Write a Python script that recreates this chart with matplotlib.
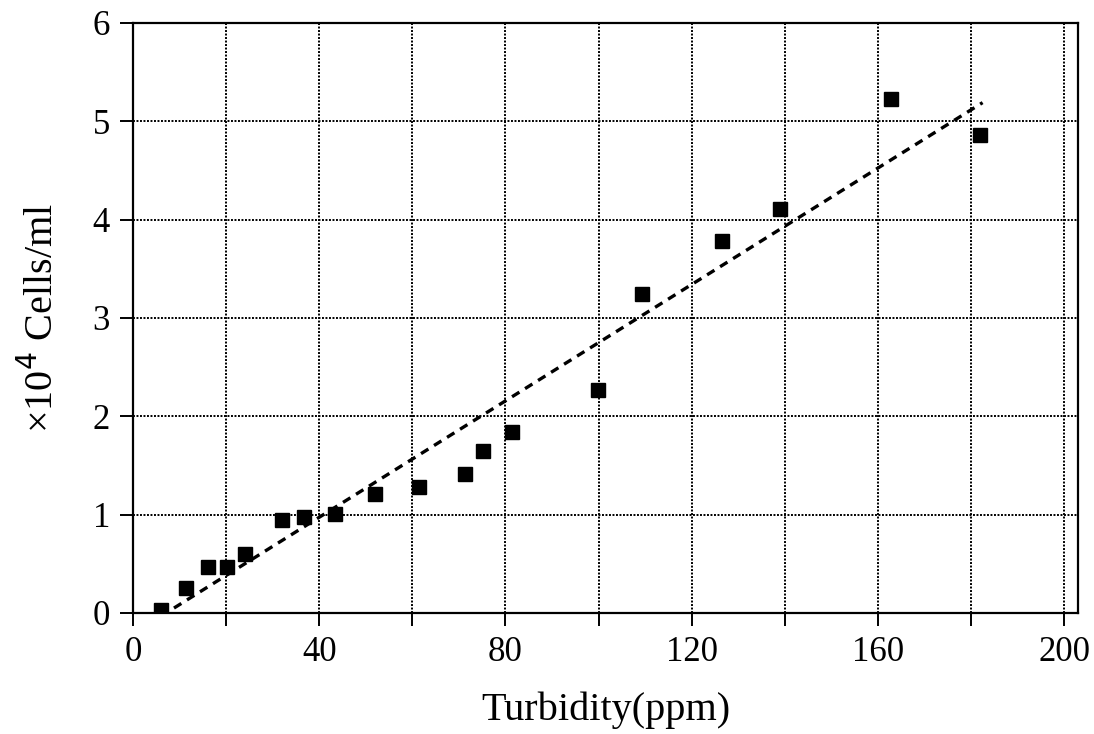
#!/usr/bin/env python3
"""
Cell count vs turbidity scatter with linear fit.
"""
import matplotlib
matplotlib.use("Agg")
import matplotlib.pyplot as plt

turbidity = [6.0, 11.4, 16.1, 20.2, 24.0, 32.1, 36.8, 43.4, 51.9, 61.4,
             71.3, 75.2, 81.4, 99.9, 109.4, 126.5, 139.0, 162.9, 181.9]
cells = [0.03, 0.25, 0.47, 0.47, 0.60, 0.95, 0.98, 1.01, 1.21, 1.28,
         1.41, 1.65, 1.84, 2.27, 3.24, 3.78, 4.11, 5.23, 4.86]

# fitted line end points
fit_x = [8.8, 182.5]
fit_y = [0.05, 5.19]

x_ticks = list(range(0, 201, 20))
x_tick_labels = [str(v) if v % 40 == 0 else "" for v in x_ticks]
y_ticks = list(range(0, 7))

FONT = ["Liberation Serif", "DejaVu Serif"]

fig = plt.figure(figsize=(10.94, 7.34), dpi=100)
ax = fig.add_axes([0.1216, 0.1649, 0.8638, 0.8038])

# grid
ax.set_xticks(x_ticks)
ax.set_xticklabels(x_tick_labels)
ax.set_yticks(y_ticks)
ax.grid(True, linestyle=(0, (1, 0.8)), color="black", linewidth=1.4)
ax.set_axisbelow(True)

ax.plot(fit_x, fit_y, linestyle=(0, (2.6, 2.0)), color="black", linewidth=2.4, zorder=3)
ax.plot(turbidity, cells, linestyle="none", marker="s", markersize=9.5,
        color="black", zorder=4)

ax.set_xlim(0, 203)
ax.set_ylim(0, 6)

for s in ax.spines.values():
    s.set_linewidth(1.6)
    s.set_color("black")

ax.tick_params(direction="out", length=9.5, width=1.4, pad=7, labelsize=25)
for lab in ax.get_xticklabels() + ax.get_yticklabels():
    lab.set_family(FONT)

ax.set_xlabel("Turbidity(ppm)", fontsize=29, family=FONT, labelpad=16)
ax.set_ylabel("×10$^4$ Cells/ml", fontsize=29, family=FONT, labelpad=22)

fig.savefig("out.png", dpi=100)
